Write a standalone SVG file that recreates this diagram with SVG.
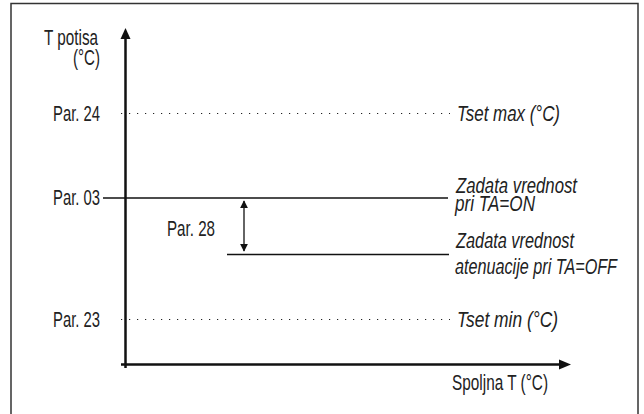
<svg xmlns="http://www.w3.org/2000/svg" width="644" height="414" viewBox="0 0 644 414">
<style>
.t{font-family:"Liberation Sans",Arial,sans-serif;font-size:21.5px;fill:#222;}
.i{font-style:italic;}
.r{text-anchor:end;}
.ax{stroke:#111;stroke-width:2.5;fill:none;}
.ln{stroke:#111;stroke-width:1.3;fill:none;}
.dot{stroke:#222;stroke-width:1.2;stroke-dasharray:1.2 6.8;fill:none;}
</style>
<defs>
<marker id="ah" viewBox="0 0 10 10" refX="9" refY="5" markerWidth="8" markerHeight="9" markerUnits="userSpaceOnUse" orient="auto-start-reverse">
<path d="M0,0 L10,5 L0,10 Z" fill="#111"/>
</marker>
</defs>
<rect x="11" y="3.5" width="627" height="420" fill="#fff" stroke="#333" stroke-width="1.5"/>
<g id="connectors">
<path class="dot" d="M121,113.5 H450"/>
<path class="dot" d="M121,319.5 H450"/>
<path class="ln" d="M103,198 H448"/>
<path class="ln" d="M227,254.5 H449"/>
<path class="ln" d="M244,201 V251" marker-start="url(#ah)" marker-end="url(#ah)"/>
</g>
<g id="y-axis">
<path class="ax" d="M125.5,368 V36"/>
<path d="M125.5,28 L120.5,39 L130.5,39 Z" fill="#111"/>
<text class="t r" x="98" y="45" textLength="54" lengthAdjust="spacingAndGlyphs">T potisa</text>
<text class="t r" x="100" y="65" textLength="27" lengthAdjust="spacingAndGlyphs">(°C)</text>
</g>
<g id="x-axis">
<path class="ax" d="M121,364.5 H562"/>
<path d="M571,364.5 L559,359.5 L559,369.5 Z" fill="#111"/>
<text class="t" x="452" y="390" textLength="96" lengthAdjust="spacingAndGlyphs">Spoljna T (°C)</text>
</g>
<g id="par24">
<text class="t" x="53" y="120.5" textLength="47" lengthAdjust="spacingAndGlyphs">Par. 24</text>
<text class="t i" x="457" y="120.5" textLength="103" lengthAdjust="spacingAndGlyphs">Tset max (°C)</text>
</g>
<g id="par03">
<text class="t" x="53" y="204.5" textLength="47" lengthAdjust="spacingAndGlyphs">Par. 03</text>
<text class="t i" x="456" y="193" textLength="121" lengthAdjust="spacingAndGlyphs">Zadata vrednost</text>
<text class="t i" x="455" y="211" textLength="80" lengthAdjust="spacingAndGlyphs">pri TA=ON</text>
</g>
<g id="par28">
<text class="t" x="167" y="235.5" textLength="48" lengthAdjust="spacingAndGlyphs">Par. 28</text>
</g>
<g id="atenuacija">
<text class="t i" x="456" y="248" textLength="118" lengthAdjust="spacingAndGlyphs">Zadata vrednost</text>
<text class="t i" x="455" y="273.5" textLength="162" lengthAdjust="spacingAndGlyphs">atenuacije pri TA=OFF</text>
</g>
<g id="par23">
<text class="t" x="53" y="326.5" textLength="47" lengthAdjust="spacingAndGlyphs">Par. 23</text>
<text class="t i" x="457" y="326.5" textLength="101" lengthAdjust="spacingAndGlyphs">Tset min (°C)</text>
</g>
</svg>
